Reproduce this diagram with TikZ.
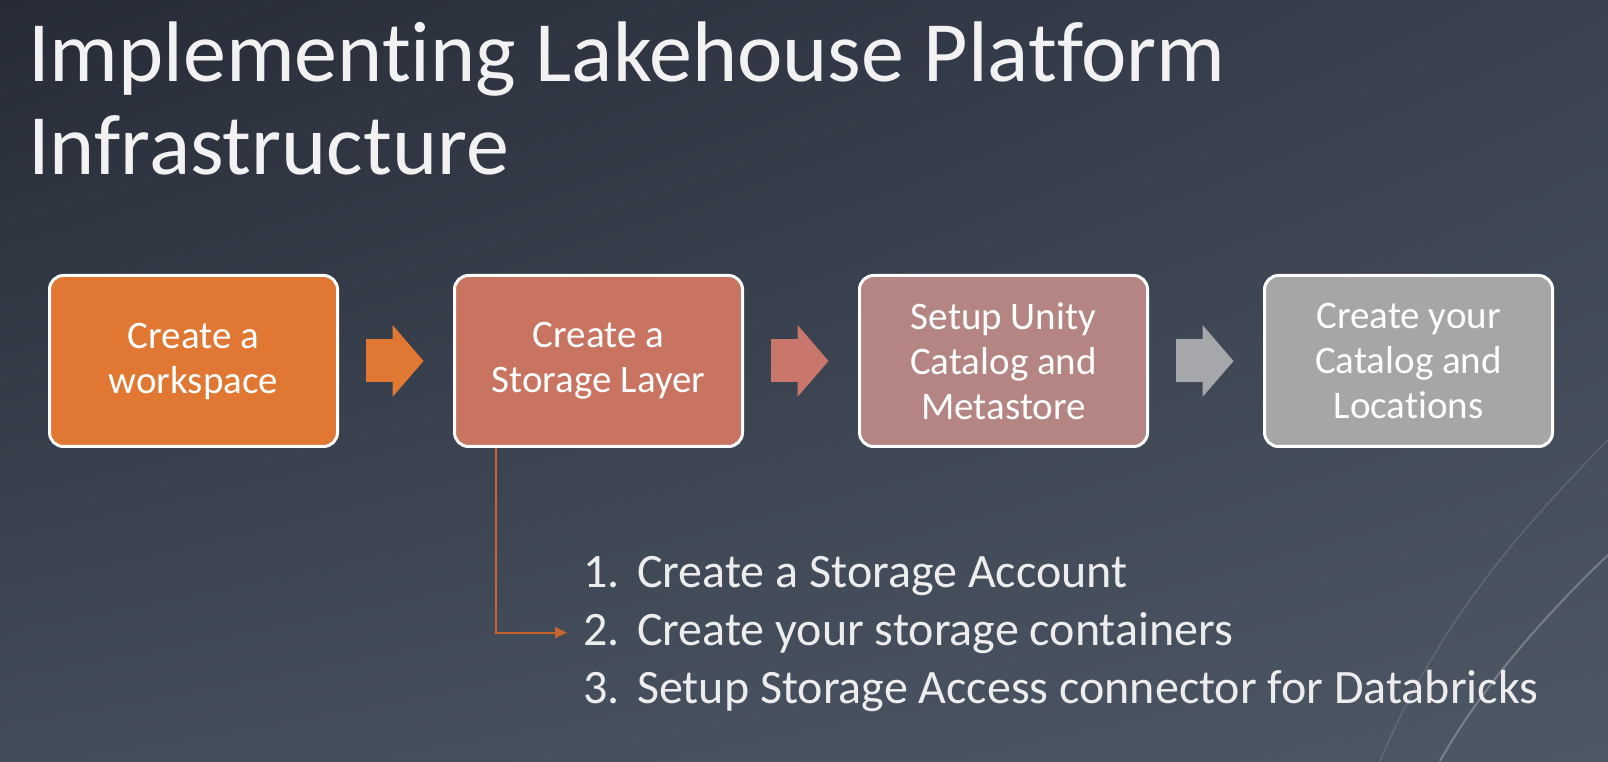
\documentclass[tikz,border=0pt]{standalone}
\usepackage{fontspec}
\setmainfont{Carlito}[Ligatures=NoCommon]
\usepackage{xcolor}
\usepackage{tikz}
\usetikzlibrary{shapes.geometric, arrows.meta, shadings}
\definecolor{bgtl}{HTML}{262B36}
\definecolor{bgtr}{HTML}{3A4250}
\definecolor{bgbl}{HTML}{434C5A}
\definecolor{bgbr}{HTML}{4E5765}
\definecolor{wsorange}{HTML}{E07834}
\definecolor{slred}{HTML}{C87461}
\definecolor{ucrose}{HTML}{B58583}
\definecolor{clgrey}{HTML}{A6A6A6}
\definecolor{slarrow}{HTML}{C8776A}
\definecolor{clarrow}{HTML}{A5A7AA}
\definecolor{branchline}{HTML}{C8642E}
\definecolor{titletext}{HTML}{F2F2F2}
\definecolor{listtext}{HTML}{EDEDED}
\tikzstyle{stepbox} = [rectangle, rounded corners=14pt, minimum width=288pt, minimum height=171pt, align=center, draw=white, line width=3pt, text=white, font=\fontsize{39}{45}\selectfont]
\tikzstyle{blockarrow} = [line width=43pt, -{Triangle[length=31pt, width=72pt, line width=0pt]}, shorten <=26.5pt, shorten >=29.5pt]
\tikzstyle{branch} = [line width=2pt, draw=branchline, -{Triangle[length=12pt, width=11pt]}]
\tikzstyle{steptext} = [anchor=base west, inner sep=0pt, text=listtext, font=\fontsize{48}{58}\selectfont]

\begin{document}
\begin{tikzpicture}[x=1pt, y=1pt, node distance=405pt]
	\shade [upper left=bgtl, upper right=bgtr, lower left=bgbl, lower right=bgbr] (0,0) rectangle (1608,761);
	\useasboundingbox (0,0) rectangle (1608,761);
	\draw [white, opacity=0.12, line width=1.5pt] (1608,321) .. controls (1520,231) and (1440,141) .. (1380,0);
	\draw [white, opacity=0.25, line width=2pt] (1608,206) .. controls (1540,141) and (1480,71) .. (1440,0);
	\node (title) [anchor=north west, inner sep=0pt, align=left, text=titletext, font=\fontsize{86}{93}\selectfont] at (28,739) {Implementing Lakehouse Platform\\Infrastructure};
	\node (ws) [stepbox, fill=wsorange] at (193.5,400) {Create a\\workspace};
	\node (sl) [stepbox, fill=slred, right of=ws] {Create a\\Storage Layer};
	\node (uc) [stepbox, fill=ucrose, right of=sl] {Setup Unity\\Catalog and\\Metastore};
	\node (cl) [stepbox, fill=clgrey, right of=uc] {Create your\\Catalog and\\Locations};
	\node (s1) [steptext] at (583,174) {\makebox[54pt][l]{1.}Create a Storage Account};
	\node (s2) [steptext] at ([yshift=-58pt]s1.base west) {\makebox[54pt][l]{2.}Create your storage containers};
	\node (s3) [steptext] at ([yshift=-58pt]s2.base west) {\makebox[54pt][l]{3.}Setup Storage Access connector for Databricks};
	\draw [blockarrow, draw=wsorange] (ws) -- (sl);
	\draw [blockarrow, draw=slarrow] (sl) -- (uc);
	\draw [blockarrow, draw=clarrow] (uc) -- (cl);
	\draw [branch] ([xshift=42.5pt]sl.south west) |- ([xshift=-16pt]s2.west);
\end{tikzpicture}
\end{document}
